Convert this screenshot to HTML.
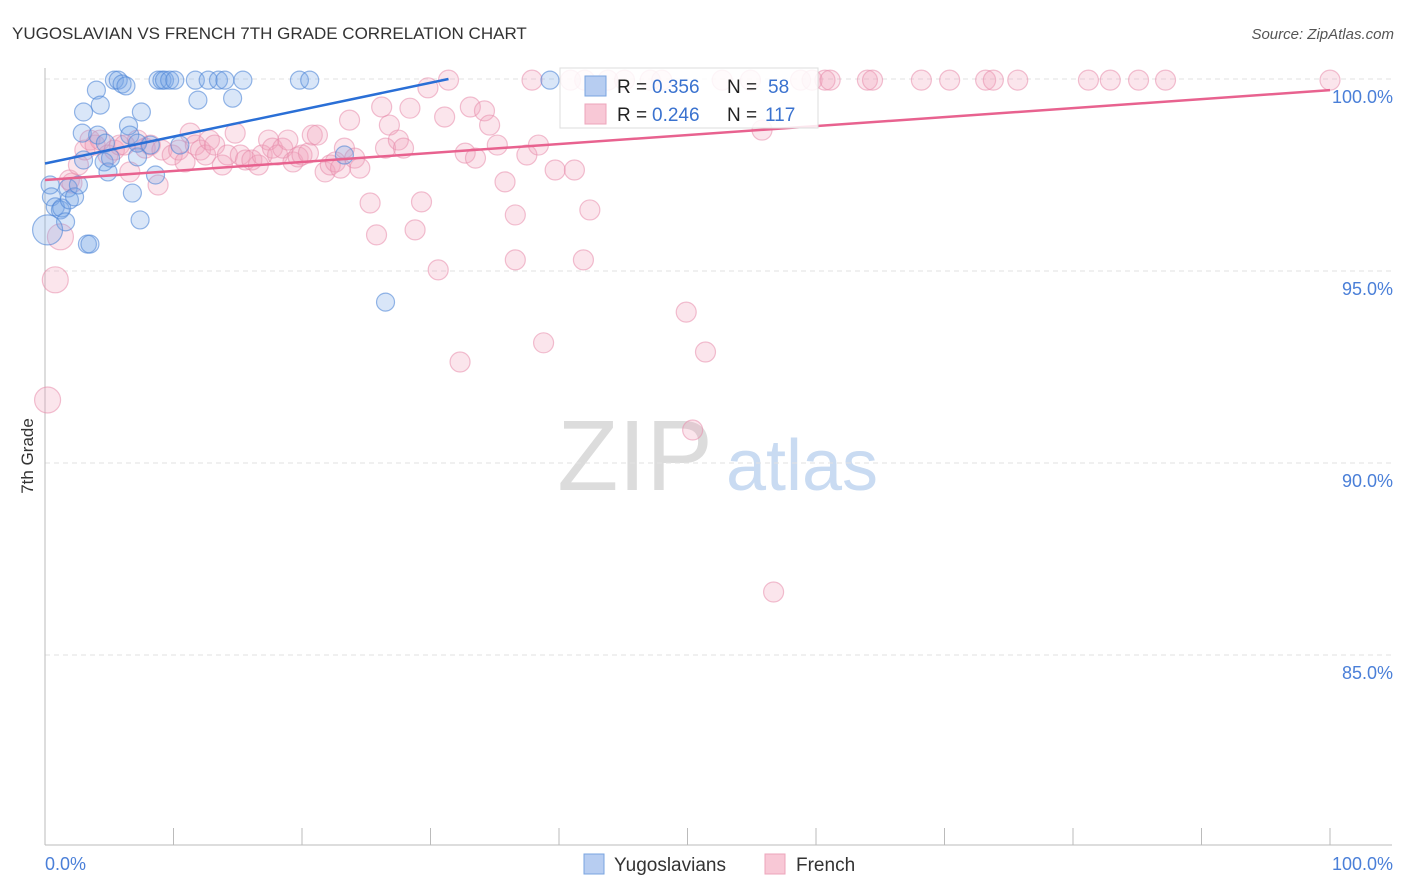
<!DOCTYPE html>
<html><head><meta charset="utf-8">
<style>
body{margin:0;background:#fff;font-family:"Liberation Sans",sans-serif;}
#wrap{position:relative;width:1406px;height:892px;overflow:hidden;}
svg text{font-family:"Liberation Sans",sans-serif;}
</style></head>
<body>
<div id="wrap">
<svg id="chart" width="1406" height="892">
<text x="12" y="39" font-size="17" fill="#333">YUGOSLAVIAN VS FRENCH 7TH GRADE CORRELATION CHART</text>
<text x="1394" y="39" font-size="15" fill="#555" text-anchor="end" font-style="italic">Source: ZipAtlas.com</text>
<text transform="translate(33,456) rotate(-90)" font-size="17" fill="#333" text-anchor="middle">7th Grade</text>
<g>
<text x="635" y="490" font-size="100" font-family="Liberation Serif,serif" fill="#dcdcdc" text-anchor="middle">ZIP</text>
<text x="802" y="490" font-size="72" fill="#c9dbf2" text-anchor="middle">atlas</text>
</g>
<g id="grid"></g>
<g id="axes"></g>
<g id="pinkPts"></g>
<g id="bluePts"></g>
<g id="lines"></g>
<g>
<rect x="560" y="68" width="258" height="60" fill="#fff" fill-opacity="0.85" stroke="#ddd"/>
<rect x="585" y="76" width="21" height="20" fill="#b7cdf1" stroke="#7aa4e0"/>
<text x="617" y="93" font-size="19" fill="#222">R = </text><text x="652" y="93" font-size="19" fill="#3a72cf">0.356</text>
<text x="727" y="93" font-size="19" fill="#222">N = </text><text x="768" y="93" font-size="19" fill="#3a72cf">58</text>
<rect x="585" y="104" width="21" height="20" fill="#f8c8d6" stroke="#eda5bb"/>
<text x="617" y="121" font-size="19" fill="#222">R = </text><text x="652" y="121" font-size="19" fill="#3a72cf">0.246</text>
<text x="727" y="121" font-size="19" fill="#222">N = </text><text x="765" y="121" font-size="19" fill="#3a72cf">117</text>
</g>
<g>
<rect x="584" y="854" width="20" height="20" fill="#b7cdf1" stroke="#7aa4e0"/>
<text x="614" y="871" font-size="19" fill="#333">Yugoslavians</text>
<rect x="765" y="854" width="20" height="20" fill="#f8c8d6" stroke="#eda5bb"/>
<text x="796" y="871" font-size="19" fill="#333">French</text>
</g>
</svg>
</div>
<script>
const blueX=[0.4,0.5,0.8,1.2,1.3,1.6,1.8,1.9,2.3,2.6,3.0,2.9,3.0,3.3,3.5,4.0,4.3,4.1,4.6,4.7,4.9,5.1,5.4,5.7,6.0,6.3,6.5,6.6,6.8,7.2,7.2,7.4,7.5,8.2,8.6,8.8,9.1,9.3,9.7,10.1,10.5,11.7,11.9,12.7,13.5,14.0,14.6,15.4,19.8,20.6,23.3,26.5,39.3,0.2];
const blueY=[97.24,96.93,96.67,96.59,96.64,96.28,97.16,96.85,96.93,97.24,97.89,98.59,99.14,95.70,95.70,99.71,99.32,98.54,97.84,98.33,97.58,97.94,99.97,99.97,99.87,99.82,98.78,98.54,97.03,97.97,98.33,96.33,99.14,98.28,97.5,99.97,99.97,99.97,99.97,99.97,98.28,99.97,99.45,99.97,99.97,99.97,99.5,99.97,99.97,99.97,98.02,94.19,99.97,96.07];
const pinkX=[0.2,0.8,1.2,1.9,2.1,2.6,3.1,3.5,3.9,4.3,4.9,5.4,5.8,6.2,6.6,7.2,7.8,8.2,8.8,9.1,9.9,10.4,10.9,11.3,11.7,12.1,12.5,12.8,13.2,13.8,14.2,14.8,15.2,15.6,16.1,16.6,16.9,17.4,17.7,18.1,18.5,18.9,19.3,19.7,20.0,20.5,20.8,21.2,21.8,22.2,22.6,23.0,23.3,23.7,24.1,24.5,25.3,25.8,26.2,26.5,26.8,27.5,27.9,28.4,28.8,29.3,29.8,30.6,31.1,31.4,32.3,32.7,33.1,33.5,34.2,34.6,35.2,35.8,36.6,36.6,37.5,37.9,38.4,38.8,39.7,40.9,41.2,42.0,42.4,41.9,43.8,45.1,47.1,48.0,49.9,50.4,51.4,52.7,54.9,55.8,56.7,58.8,59.7,60.7,61.1,64.0,64.4,68.2,70.4,73.2,73.8,75.7,81.2,82.9,85.1,87.2,100];
const pinkY=[91.64,94.77,95.89,97.37,97.29,97.76,98.15,98.41,98.28,98.41,98.02,98.15,98.28,98.28,97.58,98.41,98.2,98.28,97.24,98.15,98.02,98.15,97.84,98.59,98.28,98.15,98.02,98.41,98.28,97.76,98.02,98.59,98.02,97.89,97.89,97.76,98.02,98.41,98.2,98.02,98.2,98.41,97.84,97.97,98.02,98.07,98.54,98.54,97.58,97.76,97.84,97.68,98.2,98.93,97.94,97.68,96.77,95.94,99.27,98.2,98.8,98.41,98.2,99.24,96.07,96.8,99.77,95.03,99.01,99.97,92.63,98.07,99.27,97.94,99.17,98.8,98.28,97.32,96.46,95.29,98.02,99.97,98.28,93.13,97.63,99.97,97.63,99.97,96.59,95.29,99.97,99.97,99.97,99.97,93.93,90.86,92.89,99.97,99.97,98.67,86.64,99.97,99.97,99.97,99.97,99.97,99.97,99.97,99.97,99.97,99.97,99.97,99.97,99.97,99.97,99.97,99.97];
const pinkBig=[0,1,2];
const blueLine=[[0,97.8],[31.4,100]];
const pinkLine=[[0,97.37],[100,99.71]];
const yTicks=[100,95,90,85];
const yTickLabels=["100.0%","95.0%","90.0%","85.0%"];
const xTicks=[0,10,20,30,40,50,60,70,80,90,100];

const NS="http://www.w3.org/2000/svg";
const xs=v=>45+v*12.85;
const ys=v=>79+(100-v)*38.4;
function mk(tag,attrs,parent){const e=document.createElementNS(NS,tag);for(const k in attrs)e.setAttribute(k,attrs[k]);parent.appendChild(e);return e;}
const grid=document.getElementById('grid'),axes=document.getElementById('axes');
yTicks.forEach((t,i)=>{
  const l=mk('line',{x1:45,x2:1392,y1:ys(t),y2:ys(t),stroke:'#e2e2e2','stroke-dasharray':'5,4'},grid);
  
  
  const tx=mk('text',{x:1393,y:ys(t)+24,'font-size':18,fill:'#4a7fd8','text-anchor':'end'},axes);
  tx.textContent=yTickLabels[i];
  
  
});
let a=mk('line',{x1:45,x2:45,y1:68,y2:845,stroke:'#bbb'},axes);


a=mk('line',{x1:45,x2:1392,y1:845,y2:845,stroke:'#bbb'},axes);


xTicks.forEach(t=>{
  const l=mk('line',{x1:xs(t),x2:xs(t),y1:828,y2:845,stroke:'#bbb'},axes);
  
  
});
let xl=mk('text',{x:45,y:870,'font-size':18,fill:'#4a7fd8'},axes);xl.textContent='0.0%';


xl=mk('text',{x:1393,y:870,'font-size':18,fill:'#4a7fd8','text-anchor':'end'},axes);xl.textContent='100.0%';



const pg=document.getElementById('pinkPts');
pinkX.forEach((x,i)=>{
  const big=pinkBig.includes(i);
  const c=mk('circle',{cx:xs(x),cy:ys(pinkY[i]),r:big?13:10,fill:'rgba(242,160,188,0.28)',stroke:'rgba(232,140,172,0.55)','stroke-width':1.2},pg);
  
  
});
const bg=document.getElementById('bluePts');
blueX.forEach((x,i)=>{
  const big=i===blueX.length-1;
  const c=mk('circle',{cx:xs(x),cy:ys(blueY[i]),r:big?15:9,fill:'rgba(120,165,230,0.28)',stroke:'rgba(80,135,215,0.6)','stroke-width':1.2},bg);
  
  
});
const lg=document.getElementById('lines');
let ln=mk('line',{x1:xs(pinkLine[0][0]),y1:ys(pinkLine[0][1]),x2:xs(pinkLine[1][0]),y2:ys(pinkLine[1][1]),stroke:'#e8628f','stroke-width':2.5},lg);


ln=mk('line',{x1:xs(blueLine[0][0]),y1:ys(blueLine[0][1]),x2:xs(blueLine[1][0]),y2:ys(blueLine[1][1]),stroke:'#2a6fd6','stroke-width':2.5},lg);


</script>
</body></html>
